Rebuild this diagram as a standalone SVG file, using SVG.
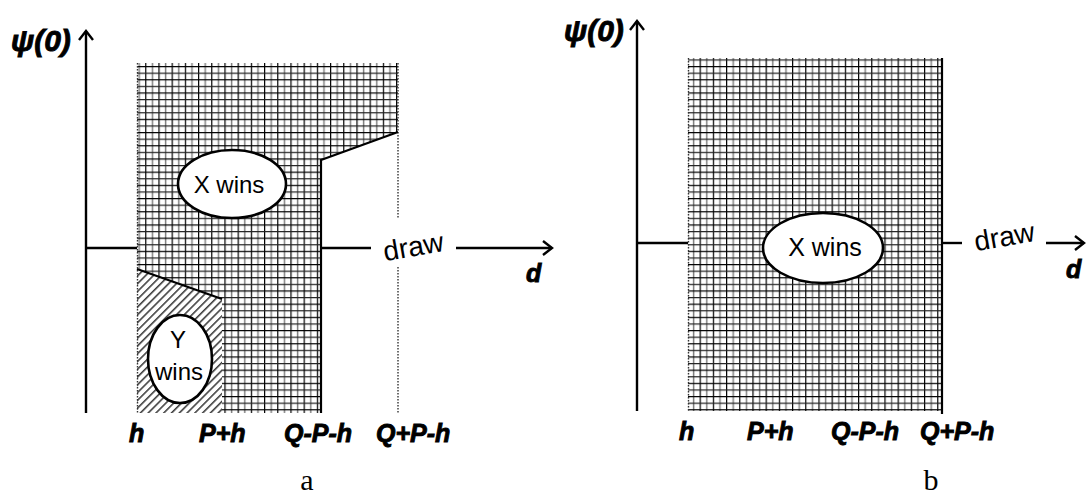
<svg xmlns="http://www.w3.org/2000/svg" width="1086" height="495" viewBox="0 0 1086 495">
<style>
.axis{stroke:#000;stroke-width:2.4;fill:none}
.edge{stroke:#000;stroke-width:2.2;fill:none}
.dot{stroke:#333;stroke-width:1.4;stroke-dasharray:1.5 1.5;fill:none}
.oval{fill:#fff;stroke:#000;stroke-width:2.6}
.lab{font-family:"Liberation Sans",Arial,sans-serif;font-weight:bold;font-style:italic;font-size:25px;fill:#000;stroke:#000;stroke-width:0.9}
.psi{font-family:"Liberation Sans","DejaVu Sans",sans-serif;font-weight:bold;font-style:italic;font-size:30px;fill:#000;stroke:#000;stroke-width:0.9}
.win{font-family:"Liberation Sans",Arial,sans-serif;font-size:24px;fill:#000;text-anchor:middle}
.draw{font-family:"Liberation Sans",Arial,sans-serif;font-size:28px;fill:#000;text-anchor:middle}
.cap{font-family:"Liberation Serif","Times New Roman",serif;font-size:30px;fill:#000;text-anchor:middle}
</style>
<defs>
<pattern id="grid" patternUnits="userSpaceOnUse" width="13.2" height="13.2">
<rect width="13.2" height="13.2" fill="#fff"/>
<line x1="0.6" y1="0" x2="0.6" y2="13.2" stroke="#000" stroke-width="1.2"/>
<line x1="7.2" y1="0" x2="7.2" y2="13.2" stroke="#808080" stroke-width="1.5"/>
<line x1="0" y1="0.6" x2="13.2" y2="0.6" stroke="#000" stroke-width="1.2"/>
<line x1="0" y1="7.2" x2="13.2" y2="7.2" stroke="#222" stroke-width="1.2"/>
</pattern>
<pattern id="hatch" patternUnits="userSpaceOnUse" width="5.5" height="5.5" patternTransform="rotate(45)">
<rect width="5.5" height="5.5" fill="#fff"/>
<line x1="0.8" y1="0" x2="0.8" y2="5.5" stroke="#333" stroke-width="1.5"/>
</pattern>
<marker id="arr" markerUnits="userSpaceOnUse" markerWidth="20" markerHeight="20" refX="10" refY="10" orient="auto" overflow="visible">
<path d="M1,3 L10,10 L1,17" fill="none" stroke="#000" stroke-width="2.4"/>
</marker>
</defs>

<!-- Panel a -->
<g id="a-region-x">
<polygon points="137,63 398,63 398,132 321,160 321,413 137,413" fill="url(#grid)"/>
</g>
<g id="a-region-y">
<polygon points="137,269 222,299 222,413 137,413" fill="url(#hatch)"/>
</g>
<g id="a-boundaries">
<line class="dot" x1="137.5" y1="63" x2="137.5" y2="413"/>
<line class="dot" x1="398" y1="63" x2="398" y2="218"/>
<line class="dot" x1="398" y1="267" x2="398" y2="413"/>
<polyline class="edge" points="398,132 321,160 321,413"/>
<line class="edge" x1="137" y1="269" x2="222" y2="299"/>
</g>
<g id="a-axes">
<line class="axis" x1="86" y1="413" x2="86" y2="31" marker-end="url(#arr)"/>
<line class="axis" x1="86" y1="248" x2="137" y2="248"/>
<line class="axis" x1="321" y1="248" x2="371" y2="248"/>
<line class="axis" x1="456" y1="248" x2="552" y2="248" marker-end="url(#arr)"/>
<text class="psi" x="11" y="51">ψ(0)</text>
<text class="lab" x="526" y="282">d</text>
<text class="draw" transform="translate(415,256) rotate(-10)">draw</text>
</g>
<g id="a-xwins">
<ellipse class="oval" cx="232" cy="184" rx="54" ry="34"/>
<text class="win" x="229" y="193">X wins</text>
</g>
<g id="a-ywins">
<ellipse class="oval" cx="180" cy="359" rx="32" ry="44"/>
<text class="win" x="178" y="348">Y</text>
<text class="win" x="179" y="380">wins</text>
</g>
<g id="a-ticks">
<text class="lab" x="129" y="442">h</text>
<text class="lab" x="199" y="442">P+h</text>
<text class="lab" x="284" y="442">Q-P-h</text>
<text class="lab" x="376" y="442">Q+P-h</text>
<text class="cap" x="307" y="490">a</text>
</g>

<!-- Panel b -->
<g id="b-region-x">
<rect x="688" y="58" width="254" height="353" fill="url(#grid)"/>
<line class="dot" x1="688.5" y1="58" x2="688.5" y2="411"/>
<line class="edge" x1="942" y1="58" x2="942" y2="414"/>
</g>
<g id="b-axes">
<line class="axis" x1="637" y1="411" x2="637" y2="21" marker-end="url(#arr)"/>
<line class="axis" x1="637" y1="243" x2="688" y2="243"/>
<line class="axis" x1="942" y1="243" x2="962" y2="243"/>
<line class="axis" x1="1046" y1="243" x2="1084" y2="243" marker-end="url(#arr)"/>
<text class="psi" x="564" y="41">ψ(0)</text>
<text class="lab" x="1066" y="278">d</text>
<text class="draw" transform="translate(1006,246) rotate(-10)">draw</text>
</g>
<g id="b-xwins">
<ellipse class="oval" cx="823" cy="248" rx="60" ry="35"/>
<text class="win" x="825" y="256" style="font-size:25px">X wins</text>
</g>
<g id="b-ticks">
<text class="lab" x="679" y="440">h</text>
<text class="lab" x="747" y="440">P+h</text>
<text class="lab" x="831" y="440">Q-P-h</text>
<text class="lab" x="920" y="440">Q+P-h</text>
<text class="cap" x="931" y="490">b</text>
</g>
</svg>
